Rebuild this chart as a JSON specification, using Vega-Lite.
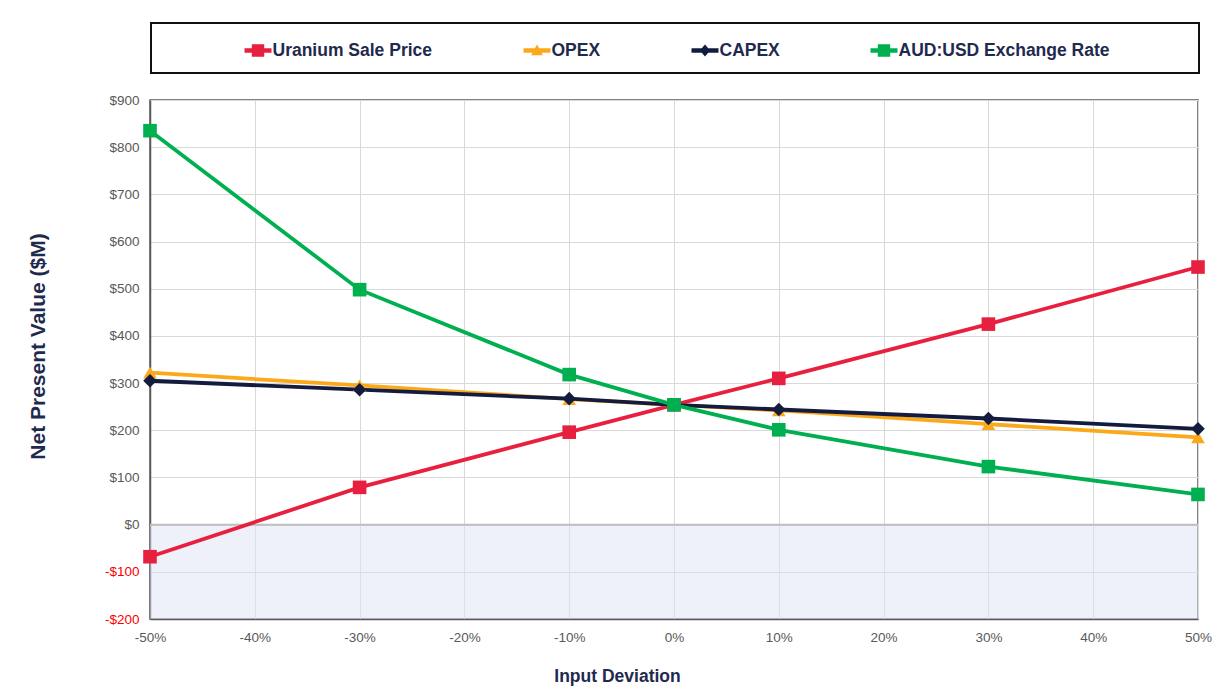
{
  "$schema": "https://vega.github.io/schema/vega-lite/v6.json",
  "width": 1048,
  "height": 519,
  "autosize": {"type": "none"},
  "padding": {"left": 150, "top": 100, "right": 29, "bottom": 76},
  "background": "white",
  "config": {
    "view": {"stroke": "#595959", "strokeWidth": 1.5},
    "font": "Liberation Sans"
  },
  "datasets": {
    "npv": [
      {"series": "Uranium Sale Price", "dev": -50, "npv": -68},
      {"series": "Uranium Sale Price", "dev": -30, "npv": 79},
      {"series": "Uranium Sale Price", "dev": -10, "npv": 196},
      {"series": "Uranium Sale Price", "dev": 0, "npv": 254},
      {"series": "Uranium Sale Price", "dev": 10, "npv": 310},
      {"series": "Uranium Sale Price", "dev": 30, "npv": 425},
      {"series": "Uranium Sale Price", "dev": 50, "npv": 546},
      {"series": "OPEX", "dev": -50, "npv": 322},
      {"series": "OPEX", "dev": -30, "npv": 295},
      {"series": "OPEX", "dev": -10, "npv": 266},
      {"series": "OPEX", "dev": 0, "npv": 254},
      {"series": "OPEX", "dev": 10, "npv": 242},
      {"series": "OPEX", "dev": 30, "npv": 213},
      {"series": "OPEX", "dev": 50, "npv": 185},
      {"series": "CAPEX", "dev": -50, "npv": 305},
      {"series": "CAPEX", "dev": -30, "npv": 286},
      {"series": "CAPEX", "dev": -10, "npv": 267},
      {"series": "CAPEX", "dev": 0, "npv": 254},
      {"series": "CAPEX", "dev": 10, "npv": 244},
      {"series": "CAPEX", "dev": 30, "npv": 225},
      {"series": "CAPEX", "dev": 50, "npv": 203},
      {"series": "AUD:USD Exchange Rate", "dev": -50, "npv": 835},
      {"series": "AUD:USD Exchange Rate", "dev": -30, "npv": 498},
      {"series": "AUD:USD Exchange Rate", "dev": -10, "npv": 318},
      {"series": "AUD:USD Exchange Rate", "dev": 0, "npv": 254},
      {"series": "AUD:USD Exchange Rate", "dev": 10, "npv": 201},
      {"series": "AUD:USD Exchange Rate", "dev": 30, "npv": 123},
      {"series": "AUD:USD Exchange Rate", "dev": 50, "npv": 64}
    ],
    "zone": [{"xmin": -50, "xmax": 50, "ymin": -200, "ymax": 0}]
  },
  "layer": [
    {
      "data": {"name": "zone"},
      "mark": {"type": "rect", "fill": "#DDE3F3", "opacity": 0.5},
      "encoding": {
        "x": {"field": "xmin", "type": "quantitative", "scale": {"domain": [-50, 50], "nice": false}},
        "x2": {"field": "xmax"},
        "y": {"field": "ymin", "type": "quantitative", "scale": {"domain": [-200, 900], "nice": false}},
        "y2": {"field": "ymax"}
      }
    },
    {
      "data": {"name": "zone"},
      "mark": {"type": "rule", "stroke": "#BFBFBF", "strokeWidth": 2},
      "encoding": {
        "x": {"field": "xmin", "type": "quantitative"},
        "x2": {"field": "xmax"},
        "y": {"field": "ymax", "type": "quantitative"}
      }
    },
    {
      "data": {"name": "npv"},
      "mark": {"type": "line", "strokeWidth": 3.8},
      "encoding": {
        "x": {
          "field": "dev", "type": "quantitative",
          "scale": {"domain": [-50, 50], "nice": false},
          "axis": {
            "title": "Input Deviation",
            "values": [-50, -40, -30, -20, -10, 0, 10, 20, 30, 40, 50],
            "labelExpr": "datum.value + '%'",
            "labelFlush": false,
            "labelFont": "Liberation Sans",
            "labelFontSize": 13.5,
            "labelColor": "#595959",
            "labelPadding": 11,
            "ticks": false,
            "domainColor": "#595959",
            "domainWidth": 1.5,
            "gridColor": "#D9D9D9",
            "gridWidth": 1,
            "titleFont": "Liberation Sans",
            "titleFontSize": 17.5,
            "titleFontWeight": "bold",
            "titleColor": "#1F2A4F",
            "titleX": 467,
            "titleY": 57,
            "titleBaseline": "middle"
          }
        },
        "y": {
          "field": "npv", "type": "quantitative",
          "scale": {"domain": [-200, 900], "nice": false},
          "axis": {
            "title": "Net Present Value ($M)",
            "values": [-200, -100, 0, 100, 200, 300, 400, 500, 600, 700, 800, 900],
            "labelExpr": "datum.value < 0 ? '-$' + abs(datum.value) : '$' + datum.value",
            "labelFont": "Liberation Sans",
            "labelFontSize": 13.5,
            "labelColor": {"condition": {"test": "datum.value < 0", "value": "#FF0000"}, "value": "#595959"},
            "labelPadding": 11,
            "ticks": false,
            "domainColor": "#595959",
            "domainWidth": 1.5,
            "gridColor": "#D9D9D9",
            "gridWidth": 1,
            "titleFont": "Liberation Sans",
            "titleFontSize": 21,
            "titleFontWeight": "bold",
            "titleColor": "#1F2A4F",
            "titleX": -112,
            "titleY": 246,
            "titleBaseline": "middle"
          }
        },
        "color": {
          "field": "series", "type": "nominal",
          "scale": {
            "domain": ["Uranium Sale Price", "OPEX", "CAPEX", "AUD:USD Exchange Rate"],
            "range": ["#E8203F", "#FBA91B", "#131C3E", "#00B050"]
          },
          "legend": {
            "title": "\u00a0",
            "titleOrient": "right",
            "titlePadding": 75,
            "titleFontSize": 10,
            "orient": "none",
            "legendX": 1,
            "legendY": -77,
            "direction": "horizontal",
            "padding": 14,
            "symbolOffset": 79.5,
            "columnPadding": 11,
            "labelOffset": 1,
            "labelLimit": 400,
            "symbolSize": 729,
            "labelFont": "Liberation Sans",
            "labelFontSize": 17.5,
            "labelFontWeight": "bold",
            "labelColor": "#1F2A4F",
            "labelBaseline": "middle",
            "strokeColor": "#111111",
            "encode": {
              "legend": {"update": {"strokeWidth": {"value": 2}}},
              "symbols": {
                "update": {
                  "shape": {"signal": "datum.value === 'OPEX' ? 'M-1,-0.16H1V0.16H-1Z M0,-0.44L0.44,0.36H-0.44Z' : datum.value === 'CAPEX' ? 'M-1,-0.16H1V0.16H-1Z M0,-0.44L0.38,0L0,0.44L-0.38,0Z' : 'M-1,-0.16H1V0.16H-1Z M-0.46,-0.46H0.46V0.46H-0.46Z'"},
                  "fill": {"signal": "scale('color', datum.value)"},
                  "stroke": {"value": "transparent"},
                  "strokeWidth": {"value": 0},
                  "opacity": {"value": 1}
                }
              }
            }
          }
        }
      }
    },
    {
      "data": {"name": "npv"},
      "mark": {"type": "point", "filled": true, "opacity": 1},
      "encoding": {
        "x": {"field": "dev", "type": "quantitative"},
        "y": {"field": "npv", "type": "quantitative"},
        "color": {"field": "series", "type": "nominal"},
        "shape": {
          "condition": [
            {"test": "datum.series === 'OPEX'", "value": "triangle-up"},
            {"test": "datum.series === 'CAPEX'", "value": "diamond"}
          ],
          "value": "square"
        },
        "size": {"value": 185}
      }
    }
  ]
}
